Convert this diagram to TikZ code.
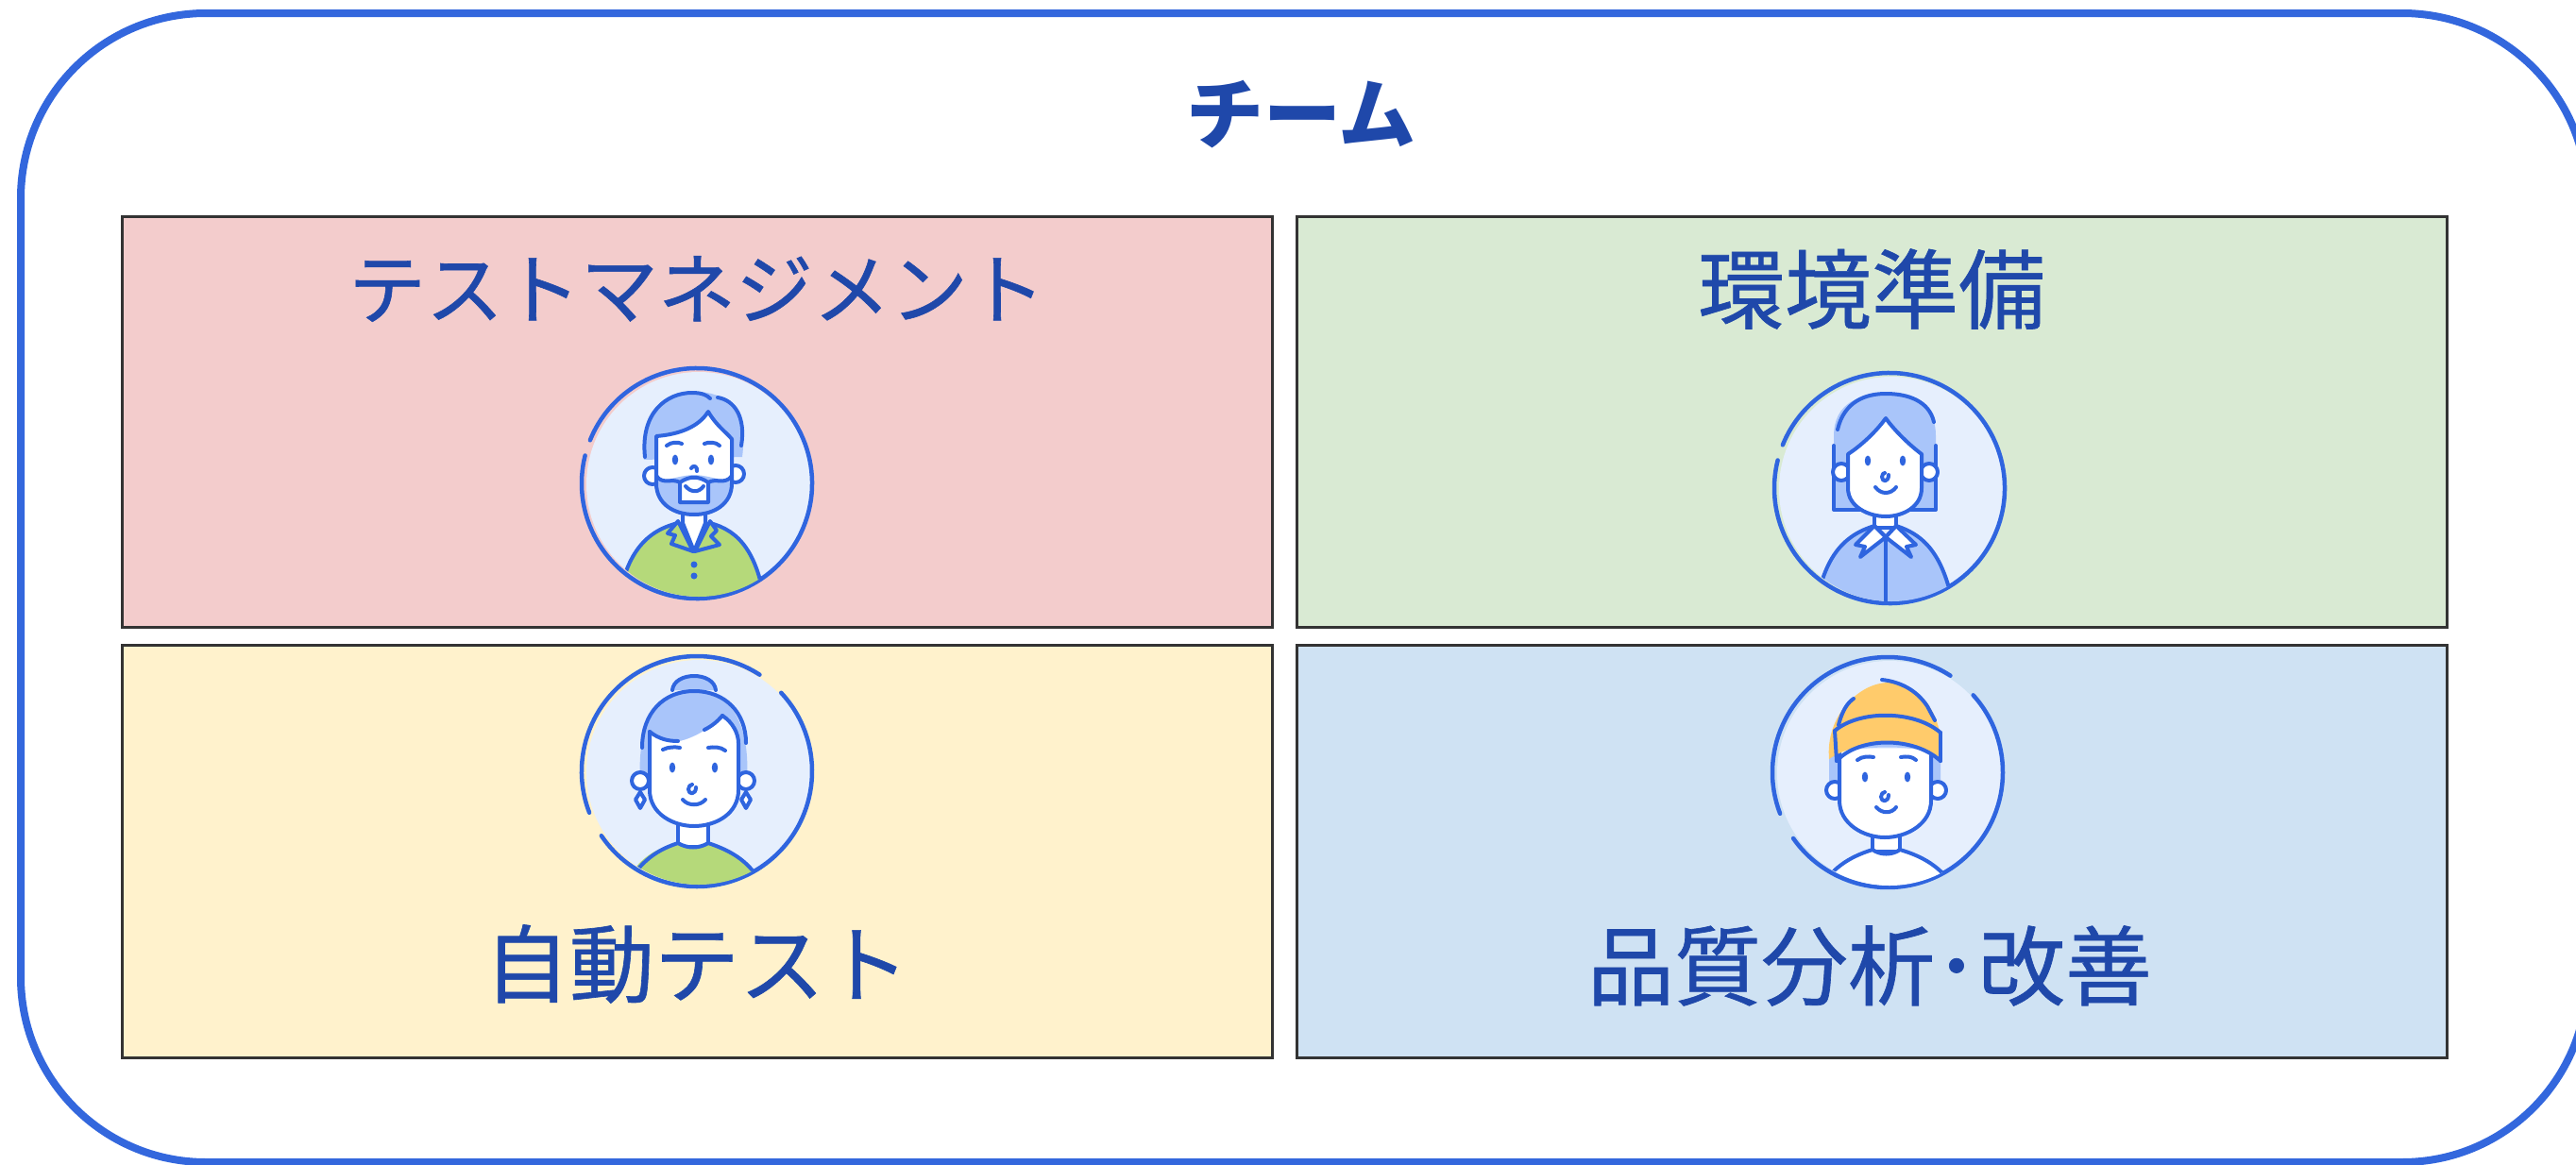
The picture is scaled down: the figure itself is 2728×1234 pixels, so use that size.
\documentclass[tikz,border=0pt]{standalone}
\usepackage{fontspec}
\newfontfamily\jpfont{Noto Sans CJK JP}
\newfontfamily\jplabel{Noto Sans CJK JP}[FakeBold=0.7]
\definecolor{frame}{HTML}{3367DD}
\definecolor{txt}{HTML}{1F48AA}
\definecolor{ink}{HTML}{2F65DF}
\definecolor{bgc}{HTML}{E6EFFD}
\definecolor{hair}{HTML}{A9C5FA}
\definecolor{shirtg}{HTML}{B5D97A}
\definecolor{hat}{HTML}{FFCB6B}
\definecolor{redbox}{HTML}{F3CCCC}
\definecolor{greenbox}{HTML}{D9EAD3}
\definecolor{yellowbox}{HTML}{FFF2CC}
\definecolor{bluebox}{HTML}{CFE2F3}
\tikzset{
  panel/.style={draw=black!80, line width=3pt},
  boxlabel/.style={font=\jplabel\fontsize{92}{100}\selectfont, text=txt, inner sep=0pt},
  ln/.style={draw=ink, line width=4pt, line cap=round, line join=round},
  ring/.style={draw=ink, line width=4.5pt, line cap=round},
  eye/.style={fill=ink},
  % bearded man in a green shirt
  avman/.pic={
    \fill[bgc] (2,1) circle (119);
    \draw[ring] (202:122) arc (202:554:122);
    \begin{scope}
      \clip (2,1) circle (119);
      \path[fill=white, ln] (-15,22) -- (-15,42) -- (-3,72) -- (9,42) -- (9,22);
      \path[fill=shirtg, ln] (-85,140) .. controls (-78,72) and (-52,50) .. (-20,42) -- (-3,72) -- (14,42) .. controls (44,50) and (66,72) .. (74,140) -- cycle;
      \path[fill=shirtg, ln] (-20,40) -- (-31,53) -- (-23,55) -- (-27,64) -- (-4,72) -- cycle;
      \path[fill=shirtg, ln] (14,40) -- (21,50) -- (15,56) -- (24,65) -- (-2,72) -- cycle;
      \fill[ink] (-3,86) circle (3.5) (-3,98) circle (3.5);
    \end{scope}
    \path[fill=white, ln] (-47,-8) circle (9) (41,-10) circle (9);
    \path[fill=hair] (-56,-25) .. controls (-62,-80) and (-32,-98) .. (-2,-97) .. controls (30,-97) and (55,-80) .. (48,-28) -- cycle;
    \draw[ln] (-55,-28) .. controls (-60,-75) and (-32,-96) .. (-5,-96) .. controls (6,-96) and (11,-93) .. (14,-90);
    \draw[ln] (22,-91) .. controls (40,-88) and (52,-70) .. (47,-40);
    \fill[white] (-43,-50) .. controls (-18,-52) and (2,-60) .. (12,-76) .. controls (20,-62) and (30,-55) .. (37,-47) -- (37,0) .. controls (37,22) and (18,33) .. (-3,33) .. controls (-24,33) and (-43,22) .. (-43,0) -- cycle;
    \fill[hair] (-43,-10) -- (-43,0) .. controls (-43,22) and (-24,33) .. (-3,33) .. controls (18,33) and (37,22) .. (37,0) -- (37,-10) .. controls (30,2) and (20,-8) .. (-3,-9) .. controls (-26,-8) and (-36,2) .. (-43,-10) -- cycle;
    \draw[ln] (-43,-50) .. controls (-18,-52) and (2,-60) .. (12,-76) .. controls (20,-62) and (30,-55) .. (37,-47) -- (37,0) .. controls (37,22) and (18,33) .. (-3,33) .. controls (-24,33) and (-43,22) .. (-43,0) -- cycle;
    \draw[ln] (-43,-8) .. controls (-36,2) and (-26,-6) .. (-18,-1);
    \draw[ln] (37,-8) .. controls (30,2) and (20,-6) .. (12,-1);
    \path[fill=white, ln] (-18,-1) .. controls (-8,-8) and (2,-8) .. (12,-1) -- (12,20) -- (-18,20) -- cycle;
    \draw[ln] (-12,3) .. controls (-6,10) and (2,10) .. (7,3);
    \path[eye] (-23,-25) ellipse (3.2 and 5.5) (15,-25) ellipse (3.2 and 5.5);
    \draw[ln] (-32,-40) .. controls (-27,-44) and (-20,-44) .. (-16,-42);
    \draw[ln] (8,-42) .. controls (12,-44) and (20,-44) .. (24,-40);
    \draw[ln] (-6,-16) .. controls (-4,-20) and (1,-18) .. (0,-13);
  },
  % woman with a bob in a blue shirt
  avbob/.pic={
    \fill[bgc] (2,1) circle (119);
    \draw[ring] (202:122) arc (202:554:122);
    \path[fill=hair] (-59,23) -- (-59,-55) .. controls (-59,-90) and (-32,-100) .. (-4,-100) .. controls (24,-100) and (49,-90) .. (49,-55) -- (49,23) -- cycle;
    \draw[ln] (-59,-45) -- (-59,23) -- (-28,23);
    \draw[ln] (49,-45) -- (49,23) -- (20,23);
    \draw[ln] (-55,-62) .. controls (-48,-92) and (-25,-100) .. (-4,-100) .. controls (20,-100) and (42,-92) .. (47,-70);
    \begin{scope}
      \clip (2,1) circle (119);
      \path[fill=white, ln] (-16,18) -- (-16,42) -- (7,42) -- (7,18);
      \path[fill=hair, ln] (-80,140) .. controls (-72,72) and (-48,50) .. (-16,40) -- (-4,52) -- (7,40) .. controls (38,50) and (60,72) .. (70,140) -- cycle;
      \path[fill=white, ln] (-16,40) -- (-36,60) -- (-26,62) -- (-31,73) -- (-4,52) -- cycle;
      \path[fill=white, ln] (7,40) -- (28,60) -- (18,62) -- (23,73) -- (-4,52) -- cycle;
      \draw[ln] (-4,52) -- (-4,130);
    \end{scope}
    \path[fill=white, ln] (-51,-17) circle (9) (42,-17) circle (9);
    \path[fill=white, ln] (-44,-36) .. controls (-30,-45) and (-14,-60) .. (-4,-74) .. controls (6,-60) and (22,-45) .. (34,-36) -- (34,0) .. controls (34,20) and (14,30) .. (-4,30) .. controls (-22,30) and (-44,20) .. (-44,0) -- cycle;
    \path[eye] (-23,-29) ellipse (3.2 and 5.5) (14,-29) ellipse (3.2 and 5.5);
    \draw[ln] (-1,-14) .. controls (-1,-6) and (-8,-6) .. (-8,-12) .. controls (-8,-15) and (-6,-16) .. (-5,-16);
    \draw[ln] (-15,-1) .. controls (-9,7) and (1,7) .. (7,-1);
  },
  % woman with a bun in a green shirt
  avbun/.pic={
    \fill[bgc] (2,1) circle (119);
    \draw[ring] (-43:122) arc (-43:146:122);
    \draw[ring] (159:122) arc (159:303:122);
    \path[fill=hair, ln] (-26,-86) .. controls (-24,-106) and (18,-106) .. (20,-86);
    \path[fill=hair] (-60,10) .. controls (-64,-55) and (-38,-86) .. (-3,-86) .. controls (32,-86) and (57,-55) .. (53,10) -- cycle;
    \draw[ln] (-58,-25) .. controls (-58,-62) and (-35,-85) .. (-3,-85) .. controls (30,-85) and (52,-62) .. (52,-30);
    \begin{scope}
      \clip (2,1) circle (119);
      \path[fill=white, ln] (-20,50) -- (-20,80) -- (12,80) -- (12,50);
      \path[fill=shirtg] (-90,150) .. controls (-70,92) and (-45,82) .. (-20,76) .. controls (-10,82) and (2,82) .. (12,76) .. controls (36,82) and (62,92) .. (80,150) -- cycle;
      \draw[ln] (-66,108) .. controls (-52,90) and (-38,82) .. (-20,76) .. controls (-10,82) and (2,82) .. (12,76) .. controls (30,82) and (46,90) .. (58,104);
    \end{scope}
    \path[fill=white, ln] (-60,10) circle (9) (52,10) circle (9);
    \path[fill=white, ln] (-60,22) -- (-55,30) -- (-60,39) -- (-65,30) -- cycle;
    \path[fill=white, ln] (52,22) -- (57,30) -- (52,39) -- (47,30) -- cycle;
    \path[fill=white] (-50,-42) .. controls (-40,-34) and (-30,-32) .. (-18,-32) .. controls (0,-36) and (20,-50) .. (27,-59) .. controls (38,-52) and (44,-40) .. (44,-30) -- (44,20) .. controls (44,45) and (20,58) .. (-3,58) .. controls (-25,58) and (-50,45) .. (-50,20) -- cycle;
    \draw[ln] (-50,-42) -- (-50,20) .. controls (-50,45) and (-25,58) .. (-3,58) .. controls (20,58) and (44,45) .. (44,20) -- (44,-30) .. controls (44,-40) and (38,-52) .. (27,-59);
    \draw[ln] (-50,-42) .. controls (-40,-34) and (-30,-32) .. (-20,-32);
    \draw[ln] (8,-44) .. controls (16,-48) and (22,-53) .. (27,-59);
    \path[eye] (-26,-4) ellipse (3.2 and 5.5) (19,-4) ellipse (3.2 and 5.5);
    \draw[ln] (-36,-23) .. controls (-30,-26) and (-23,-26) .. (-18,-25);
    \draw[ln] (12,-25) .. controls (18,-26) and (25,-26) .. (30,-22);
    \draw[ln] (-1,17) .. controls (-1,25) and (-9,25) .. (-9,19) .. controls (-9,16) and (-7,14) .. (-5,14);
    \draw[ln] (-15,30) .. controls (-9,37) and (3,37) .. (9,30);
  },
  % boy wearing a beanie
  avhat/.pic={
    \fill[bgc] (2,1) circle (119);
    \draw[ring] (-42:122) arc (-42:145:122);
    \draw[ring] (159:122) arc (159:303:122);
    \begin{scope}
      \clip (2,1) circle (119);
      \path[fill=white, ln] (-16,55) -- (-16,84) -- (13,84) -- (13,55);
      \path[fill=white] (-90,150) .. controls (-72,100) and (-40,88) .. (-16,82) .. controls (-8,88) and (5,88) .. (13,82) .. controls (40,88) and (64,100) .. (82,150) -- cycle;
      \draw[ln] (-64,112) .. controls (-50,95) and (-32,87) .. (-16,82) .. controls (-8,88) and (5,88) .. (13,82) .. controls (30,87) and (48,95) .. (61,110);
    \end{scope}
    \path[fill=hair] (-62,-20) -- (-62,15) -- (-48,20) -- (-48,-20) -- cycle;
    \path[fill=hair] (44,-20) -- (44,20) -- (56,15) -- (56,-20) -- cycle;
    \path[fill=white, ln] (-56,19) circle (9) (53,19) circle (9);
    \path[fill=white, ln] (-51,-25) -- (-51,30) .. controls (-51,55) and (-25,69) .. (-3,69) .. controls (20,69) and (46,55) .. (46,30) -- (46,-25);
    \path[fill=hair] (-44,-22) .. controls (-20,-40) and (20,-40) .. (42,-22) .. controls (20,-28) and (-20,-28) .. (-44,-22) -- cycle;
    \path[fill=hat] (-62,-14) .. controls (-66,-60) and (-30,-95) .. (1,-95) .. controls (35,-95) and (60,-60) .. (57,-14) .. controls (30,-36) and (-30,-36) .. (-62,-14) -- cycle;
    \draw[ln] (-56,-44) .. controls (-30,-66) and (28,-66) .. (56,-42);
    \draw[ln] (-54,-12) .. controls (-30,-38) and (28,-38) .. (56,-12);
    \draw[ln] (-56,-44) -- (-54,-12);
    \draw[ln] (56,-42) -- (56,-12);
    \draw[ln] (-52,-50) .. controls (-48,-66) and (-42,-74) .. (-36,-78);
    \draw[ln] (-6,-98) .. controls (12,-96) and (30,-88) .. (42,-70) -- (50,-55);
    \path[eye] (-24,5) ellipse (3.2 and 5.5) (21,5) ellipse (3.2 and 5.5);
    \draw[ln] (-32,-13) .. controls (-27,-17) and (-20,-17) .. (-15,-16);
    \draw[ln] (14,-16) .. controls (19,-17) and (26,-17) .. (30,-13);
    \draw[ln] (1,24) .. controls (1,32) and (-7,32) .. (-7,26) .. controls (-7,23) and (-5,21) .. (-3,21);
    \draw[ln] (-12,37) .. controls (-6,44) and (4,44) .. (9,37);
  }
}
\begin{document}
\begin{tikzpicture}[x=1pt,y=-1pt]
  \useasboundingbox (0,0) rectangle (2728,1234);
  \begin{scope}
    \clip (0,0) rectangle (2728,1234);
    \draw[frame, line width=8pt, rounded corners=196pt] (22,14) rectangle (2740,1231);
  \end{scope}
  \node[boxlabel, font=\jpfont\bfseries\fontsize{82}{90}\selectfont] (title) at (1378,121) {チーム};

  \draw[panel, fill=redbox] (129,229) rectangle (1347,664);
  \draw[panel, fill=greenbox] (1373,229) rectangle (2591,664);
  \draw[panel, fill=yellowbox] (129,683) rectangle (1347,1120);
  \draw[panel, fill=bluebox] (1373,683) rectangle (2591,1120);

  \node[boxlabel, font=\jplabel\fontsize{82}{90}\selectfont] (mgmt) at (738,306) {テストマネジメント};
  \node[boxlabel] (env) at (1982,306) {環境準備};
  \node[boxlabel, font=\jplabel\fontsize{90}{100}\selectfont] (auto) at (738,1021) {自動テスト};
  \node[boxlabel] (qa) at (1980,1023) {品質分析･改善};

  \pic (manager) at (738,512) {avman};
  \pic (envlead) at (2001,517) {avbob};
  \pic (tester) at (738,817) {avbun};
  \pic (analyst) at (1999,818) {avhat};
\end{tikzpicture}
\end{document}
